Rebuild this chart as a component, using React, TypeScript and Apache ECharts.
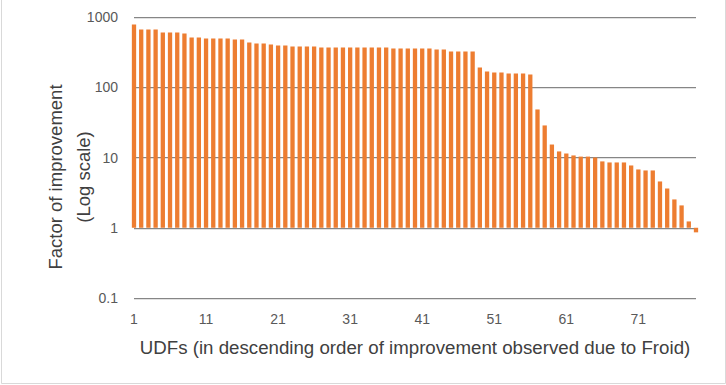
import React, { useEffect, useRef } from "react";
import * as echarts from "echarts";

const categories: string[] = Array.from({ length: 79 }, (_, i) => String(i + 1));

const improvement: number[] = [
  783, 665, 665, 665, 603, 603, 603, 583, 512, 512,
  495, 495, 495, 495, 479, 479, 434, 420, 420, 407,
  394, 394, 381, 381, 381, 381, 369, 369, 369, 369,
  369, 369, 369, 369, 369, 369, 357, 357, 357, 357,
  357, 357, 345, 345, 324, 324, 324, 324, 191, 168,
  162, 162, 157, 157, 157, 152, 48.3, 28.6, 15.3, 12.2,
  11.4, 10.7, 10.3, 10.3, 10, 8.8, 8.5, 8.5, 8.5, 7.7,
  6.76, 6.54, 6.54, 4.56, 3.62, 2.53, 2.08, 1.23, 0.86,
];

const yTickLabels: Record<string, string> = {
  "0.1": "0.1",
  "1": "1",
  "10": "10",
  "100": "100",
  "1000": "1000",
};

const xAxisTitle = "UDFs (in descending order of improvement observed due to Froid)";
const yAxisTitle = "Factor of improvement\n(Log scale)";

const FONT = "Liberation Sans";

export default function App() {
  const ref = useRef<HTMLDivElement>(null);

  useEffect(() => {
    if (!ref.current) return;
    const chart = echarts.init(ref.current, undefined, { renderer: "svg" });
    chart.setOption({
      animation: false,
      backgroundColor: "#ffffff",
      textStyle: { fontFamily: FONT },
      grid: { left: 134, right: 30, top: 17, bottom: 87, containLabel: false },
      graphic: [
        {
          type: "rect",
          shape: { x: 1.5, y: -1, width: 724, height: 384.5 },
          style: { fill: "none", stroke: "#d9d9d9", lineWidth: 1 },
          silent: true,
        },
        {
          type: "text",
          x: 69,
          y: 177,
          rotation: Math.PI / 2,
          silent: true,
          style: {
            text: yAxisTitle,
            fill: "#404040",
            fontSize: 18.5,
            fontFamily: FONT,
            lineHeight: 28,
            align: "center",
            verticalAlign: "middle",
          },
        },
      ],
      xAxis: {
        type: "category",
        data: categories,
        boundaryGap: false,
        axisLine: { show: false },
        axisTick: { show: false },
        splitLine: { show: false },
        axisLabel: {
          interval: 9,
          color: "#595959",
          fontSize: 14,
          fontFamily: FONT,
          margin: 14,
        },
        name: xAxisTitle,
        nameLocation: "middle",
        nameGap: 40,
        nameTextStyle: { color: "#404040", fontSize: 18.7, fontFamily: FONT },
      },
      yAxis: {
        type: "log",
        logBase: 10,
        min: 0.1,
        max: 1000,
        axisLine: { show: false },
        axisTick: { show: false },
        splitLine: { show: true, lineStyle: { color: "#868686", width: 1.25 } },
        axisLabel: {
          color: "#595959",
          fontSize: 14,
          fontFamily: FONT,
          margin: 16,
          formatter: (v: number) => {
            const key = String(Number(v.toPrecision(6)));
            return yTickLabels[key] ?? key;
          },
        },
      },
      series: [
        {
          type: "bar",
          data: improvement,
          barWidth: 4.3,
          clip: true,
          itemStyle: { color: "#ED7D31" },
        },
      ],
    });
    return () => chart.dispose();
  }, []);

  return (
    <div
      ref={ref}
      style={{ position: "fixed", left: 0, top: 0, width: 726, height: 385, background: "#fff" }}
    />
  );
}
